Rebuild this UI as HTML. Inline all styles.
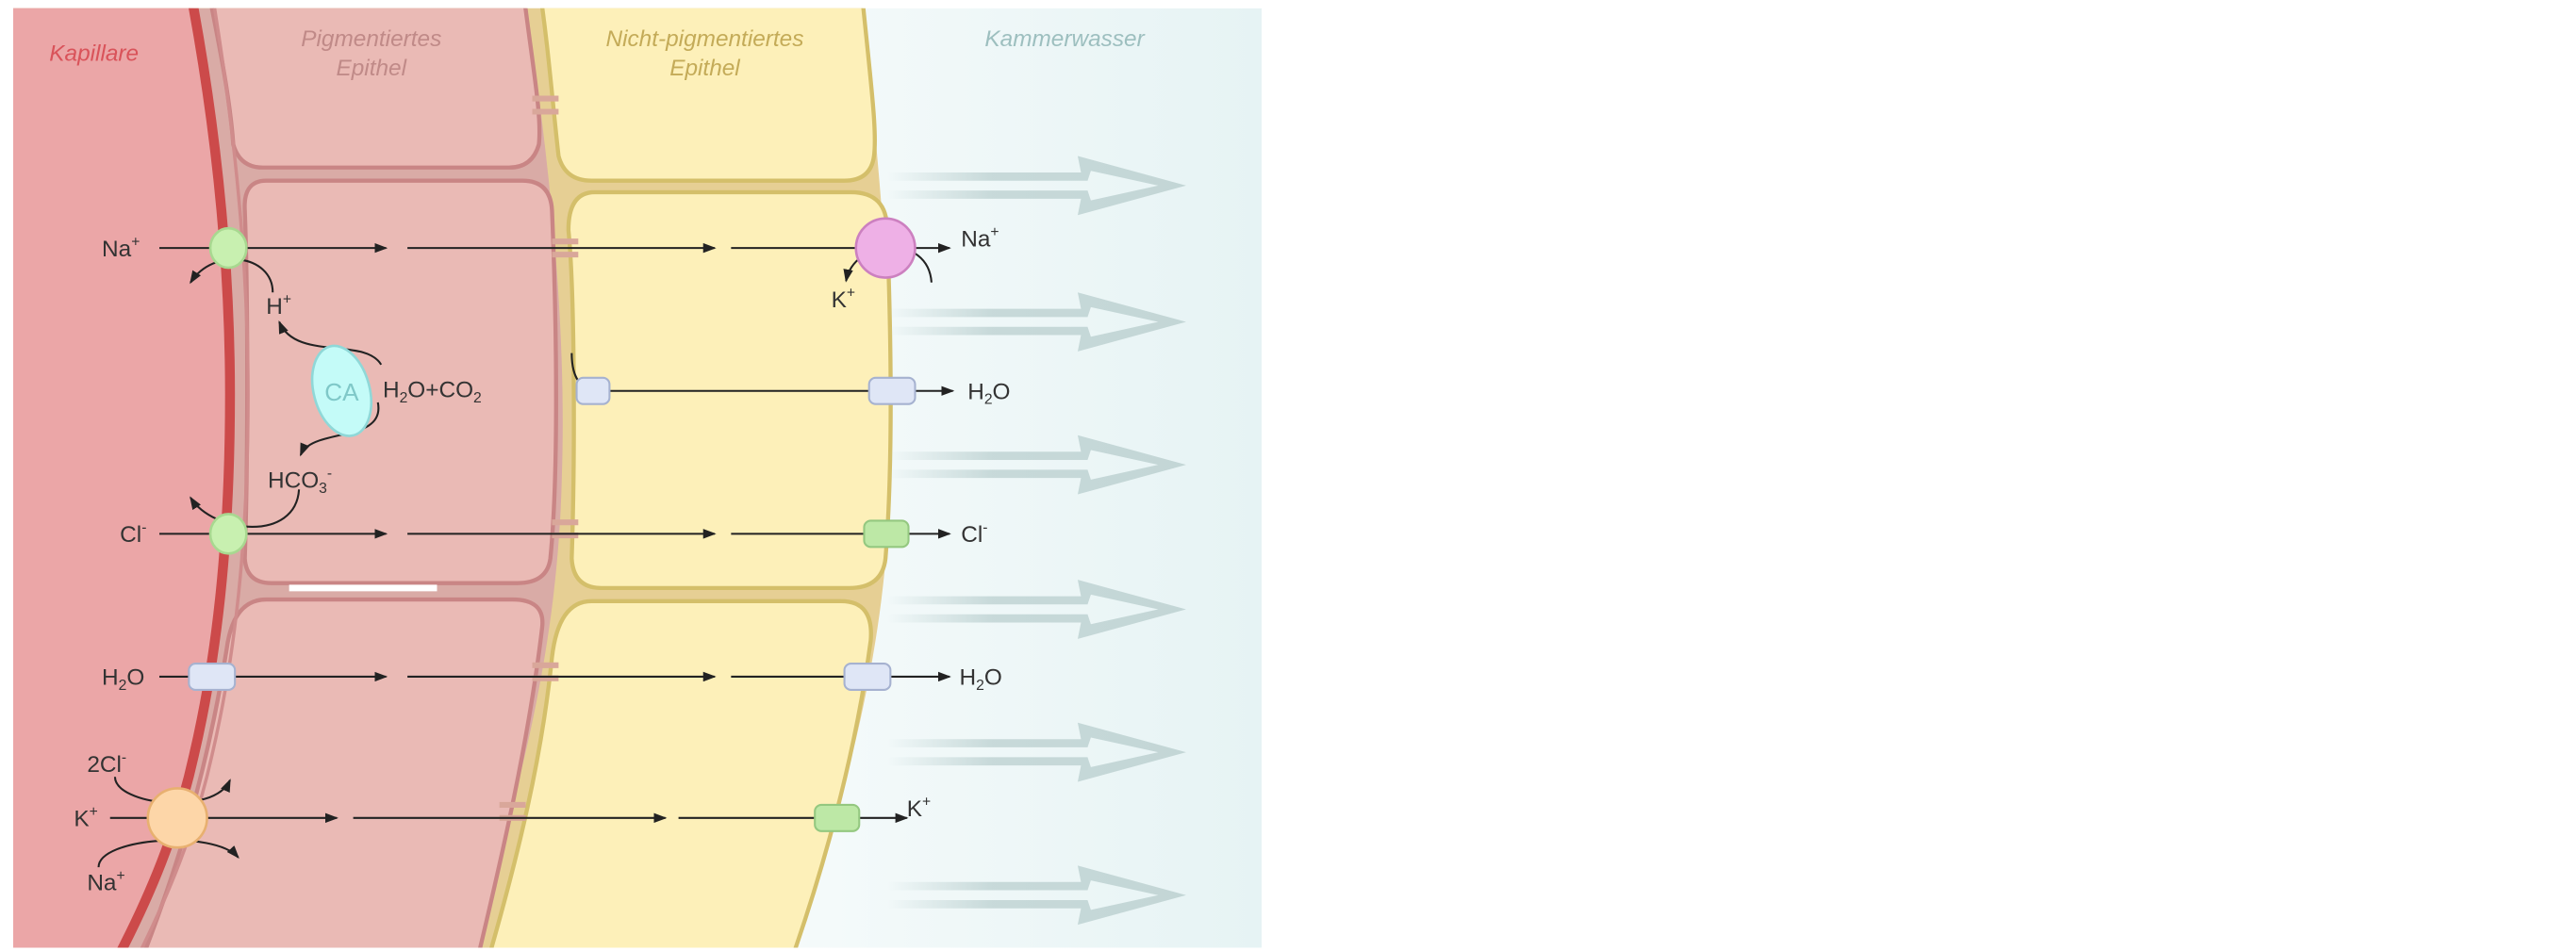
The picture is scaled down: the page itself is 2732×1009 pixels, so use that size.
<!DOCTYPE html>
<html><head><meta charset="utf-8"><style>
html,body{margin:0;padding:0;background:#fff;width:2732px;height:1009px;overflow:hidden}
svg{display:block}
text{font-family:"Liberation Sans",sans-serif}
.lb{font-size:14px;fill:#333}
.ttl{font-size:14px;font-style:italic}
</style></head><body>
<svg width="2732" height="1009" viewBox="0 0 1568 579" preserveAspectRatio="none">
<defs>
<linearGradient id="kw" x1="0" x2="1" y1="0" y2="0"><stop offset="0" stop-color="#ffffff"/><stop offset="0.6" stop-color="#f6fbfb"/><stop offset="1" stop-color="#e6f3f4"/></linearGradient>
<linearGradient id="ar" x1="0" x2="1" y1="0" y2="0"><stop offset="0" stop-color="#c3d6d6" stop-opacity="0"/><stop offset="0.35" stop-color="#c3d6d6" stop-opacity="0.9"/><stop offset="1" stop-color="#c3d6d6"/></linearGradient>
<marker id="ah" markerWidth="8" markerHeight="6" refX="7" refY="3" orient="auto" markerUnits="userSpaceOnUse"><path d="M0,0 L8,3 L0,6 Z" fill="#222"/></marker>
<clipPath id="panel"><rect x="8" y="5" width="760" height="572"/></clipPath>
</defs>
<g clip-path="url(#panel)">
<rect x="8" y="5" width="760" height="572" fill="url(#kw)"/>
<path d="M8,-5 L524,-5 C535,100 545,200 542,290 C540,380 522,470 478,590 L8,590 Z" fill="#e6cf94"/>
<path d="M8,-5 L319,-5 C335,100 345,200 342,290 C340,380 322,470 282,590 L8,590 Z" fill="#d9aba6"/>
<path d="M8,-5 L116,-5 C132,80 140,160 140,240 C140,330 132,400 118,460 C108,505 92,545 68,590 L8,590 Z" fill="#eba6a7"/>
<g fill="#eabab5" stroke="#c98585" stroke-width="2.5">
<path d="M126,-10 L318,-10 C324,40 330,70 328,88 Q324,102 310,102 L160,102 Q146,102 142,88 C140,60 134,30 126,-10 Z"/>
<path d="M162,110 L318,110 Q335,110 336,128 C339,200 340,290 335,340 Q333,355 315,355 L165,355 Q150,355 149,340 C151,280 151,180 149,128 Q148,110 162,110 Z"/>
<path d="M162,365 L312,365 Q332,365 330,382 C322,450 306,520 288,595 L82,595 C108,530 126,470 138,395 Q142,365 162,365 Z"/>
</g>
<g fill="#fdf0b9" stroke="#d4bf6a" stroke-width="2.5">
<path d="M328,-10 L524,-10 C530,50 534,80 532,95 Q530,110 514,110 L360,110 Q344,110 340,95 C336,60 334,30 328,-10 Z"/>
<path d="M362,117 L518,117 Q540,117 540,140 C543,220 543,290 539,340 Q537,358 517,358 L366,358 Q349,358 348,340 C350,280 350,180 346,140 Q346,117 362,117 Z"/>
<path d="M360,366 L512,366 Q532,366 530,390 C522,450 505,520 478,595 L294,595 C316,520 330,460 336,400 Q340,366 360,366 Z"/>
</g>
<path d="M129,-5 C143,80 151,160 151,240 C151,330 143,400 129,460 C119,505 103,545 80,590" fill="none" stroke="#d08c8c" stroke-width="2"/>
<path d="M116,-5 C132,80 140,160 140,240 C140,330 132,400 118,460 C108,505 92,545 68,590" fill="none" stroke="#cc4a4a" stroke-width="6"/>
</g>
<rect x="176" y="356" width="90" height="4" fill="#fff"/>
<g stroke="#d9a79a" stroke-width="3.5">
<line x1="324" y1="60" x2="340" y2="60"/><line x1="324" y1="68" x2="340" y2="68"/>
<line x1="336" y1="147" x2="352" y2="147"/><line x1="336" y1="155" x2="352" y2="155"/>
<line x1="336" y1="318" x2="352" y2="318"/><line x1="336" y1="326" x2="352" y2="326"/>
<line x1="324" y1="405" x2="340" y2="405"/><line x1="324" y1="413" x2="340" y2="413"/>
<line x1="304" y1="490" x2="320" y2="490"/><line x1="304" y1="498" x2="320" y2="498"/>
</g>
<g id="flow"></g>
<g class="ttl">
<text x="30" y="37" fill="#d9535a">Kapillare</text>
<text x="226" y="28" fill="#c08a88" text-anchor="middle">Pigmentiertes</text>
<text x="226" y="46" fill="#c08a88" text-anchor="middle">Epithel</text>
<text x="429" y="28" fill="#c4ab58" text-anchor="middle">Nicht-pigmentiertes</text>
<text x="429" y="46" fill="#c4ab58" text-anchor="middle">Epithel</text>
<text x="648" y="28" fill="#9dbfbf" text-anchor="middle">Kammerwasser</text>
</g>
<g stroke="#222" stroke-width="1.2" fill="none" marker-end="url(#ah)">
<line x1="97" y1="151" x2="235" y2="151"/><line x1="248" y1="151" x2="435" y2="151"/><line x1="445" y1="151" x2="578" y2="151"/>
<line x1="97" y1="325" x2="235" y2="325"/><line x1="248" y1="325" x2="435" y2="325"/><line x1="445" y1="325" x2="578" y2="325"/>
<line x1="97" y1="412" x2="235" y2="412"/><line x1="248" y1="412" x2="435" y2="412"/><line x1="445" y1="412" x2="578" y2="412"/>
<line x1="67" y1="498" x2="205" y2="498"/><line x1="215" y1="498" x2="405" y2="498"/><line x1="413" y1="498" x2="552" y2="498"/>
<path d="M348,215 Q348,238 365,238 L580,238"/>
<path d="M166,178 C166,155 130,150 116,172"/>
<path d="M232,222 C222,205 180,220 170,196"/>
<path d="M230,245 C235,270 190,260 183,277"/>
<path d="M182,298 C180,330 130,325 116,303"/>
<path d="M567,172 C565,142 520,145 515,171"/>
<path d="M70,473 C70,490 130,497 140,475"/>
<path d="M60,528 C60,510 130,505 145,522"/>
</g>
<g>
<ellipse cx="139" cy="151" rx="11" ry="12" fill="#c8f0b0" stroke="#a8d890" stroke-width="1.5"/>
<ellipse cx="139" cy="325" rx="11" ry="12" fill="#c8f0b0" stroke="#a8d890" stroke-width="1.5"/>
<circle cx="539" cy="151" r="18" fill="#eeb0e6" stroke="#cc80c0" stroke-width="1.5"/>
<ellipse cx="208" cy="238" rx="17" ry="28" transform="rotate(-15 208 238)" fill="#c4fbf8" stroke="#8fd8d8" stroke-width="1.5"/>
<ellipse cx="108" cy="498" rx="18" ry="18" fill="#fdd6a8" stroke="#e8b070" stroke-width="1.5"/>
<g fill="#dfe6f6" stroke="#a6b2d0" stroke-width="1.2">
<rect x="351" y="230" width="20" height="16" rx="4"/><rect x="529" y="230" width="28" height="16" rx="4"/>
<rect x="115" y="404" width="28" height="16" rx="4"/><rect x="514" y="404" width="28" height="16" rx="4"/>
</g>
<g fill="#bde8a6" stroke="#94c880" stroke-width="1.2">
<rect x="526" y="317" width="27" height="16" rx="4"/><rect x="496" y="490" width="27" height="16" rx="4"/>
</g>
</g>
<text x="208" y="244" font-size="15" fill="#7fc8c8" text-anchor="middle">CA</text>
<g class="lb">
<text x="62" y="156">Na<tspan font-size="9" dy="-6">+</tspan></text>
<text x="162" y="191">H<tspan font-size="9" dy="-6">+</tspan></text>
<text x="233" y="242">H<tspan font-size="9" dy="3">2</tspan><tspan dy="-3">O+CO</tspan><tspan font-size="9" dy="3">2</tspan></text>
<text x="163" y="297">HCO<tspan font-size="9" dy="3">3</tspan><tspan font-size="9" dy="-9">-</tspan></text>
<text x="73" y="330">Cl<tspan font-size="9" dy="-6">-</tspan></text>
<text x="62" y="417">H<tspan font-size="9" dy="3">2</tspan><tspan dy="-3">O</tspan></text>
<text x="53" y="470">2Cl<tspan font-size="9" dy="-6">-</tspan></text>
<text x="45" y="503">K<tspan font-size="9" dy="-6">+</tspan></text>
<text x="53" y="542">Na<tspan font-size="9" dy="-6">+</tspan></text>
<text x="506" y="187">K<tspan font-size="9" dy="-6">+</tspan></text>
<text x="585" y="150">Na<tspan font-size="9" dy="-6">+</tspan></text>
<text x="589" y="243">H<tspan font-size="9" dy="3">2</tspan><tspan dy="-3">O</tspan></text>
<text x="585" y="330">Cl<tspan font-size="9" dy="-6">-</tspan></text>
<text x="584" y="417">H<tspan font-size="9" dy="3">2</tspan><tspan dy="-3">O</tspan></text>
<text x="552" y="497">K<tspan font-size="9" dy="-6">+</tspan></text>
</g>
</svg>
<script>
const flowRows = [113, 196, 283, 371, 458, 545];
const g = document.getElementById('flow');
const NS = 'http://www.w3.org/2000/svg';
flowRows.forEach(function(y){
  const p = document.createElementNS(NS,'path');
  p.setAttribute('d','M540,'+(y-8)+' L658,'+(y-8)+' L656,'+(y-18)+' L722,'+y+' L656,'+(y+18)+' L658,'+(y+8)+' L540,'+(y+8)+' L540,'+(y+3)+' L662,'+(y+3)+' L664,'+(y+9)+' L705,'+y+' L664,'+(y-9)+' L662,'+(y-3)+' L540,'+(y-3)+' Z');
  p.setAttribute('fill','url(#ar)');
  
  
  g.appendChild(p);
});
</script>
</body></html>
